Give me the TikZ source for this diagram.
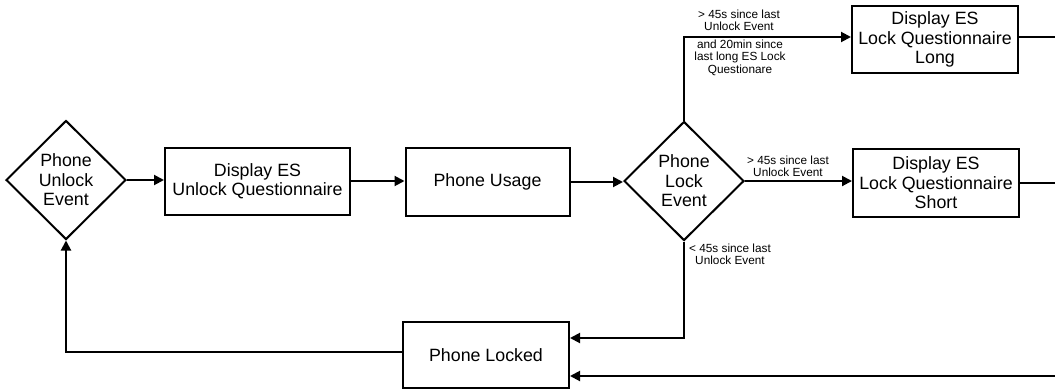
\documentclass[tikz,border=0pt]{standalone}
\usepackage{fontspec}
\setmainfont{Liberation Sans}
\usetikzlibrary{shapes.geometric,arrows.meta}
\begin{document}
\begin{tikzpicture}[x=1pt,y=-1pt,
 every node/.style={font=\fontsize{17.8}{19.5}\selectfont},
 box/.style={draw,line width=2pt,align=center,inner sep=0pt},
 dec/.style={draw,diamond,line width=2pt,align=center,inner sep=0pt,minimum width=120pt,minimum height=119pt},
 arr/.style={line width=2pt,-{Triangle[length=10pt,width=10pt]}},
 ln/.style={line width=2pt},
 lbl/.style={font=\fontsize{11.8}{12.4}\selectfont,align=center,inner sep=0pt,anchor=north}]
\useasboundingbox (0,0) rectangle (1055,389);
\node[dec] (unlock) at (66,180) {Phone\\Unlock\\Event};
\node[box,minimum width=185pt,minimum height=67pt] (dispU) at (257.5,181) {Display ES\\Unlock Questionnaire};
\node[box,minimum width=164pt,minimum height=68pt] (usage) at (487.5,182) {Phone Usage};
\node[dec] (lock) at (684,181) {Phone\\Lock\\Event};
\node[box,minimum width=166pt,minimum height=67pt] (long) at (935,39.5) {Display ES\\Lock Questionnaire\\Long};
\node[box,minimum width=166pt,minimum height=68pt] (short) at (936,183) {Display ES\\Lock Questionnaire\\Short};
\node[box,minimum width=166pt,minimum height=66pt] (locked) at (486,355) {Phone Locked};

\coordinate (r1) at (1055,37);
\coordinate (r2) at (1055,183);
\coordinate (r3) at (1055,376);

\draw[arr] (unlock.east) -- (unlock.east -| dispU.west);
\draw[arr] (dispU.east) -- (dispU.east -| usage.west);
\draw[arr] (usage.east) -- (usage.east -| lock.west);
\draw[arr] (lock.east) -- (lock.east -| short.west);
\draw[arr] (lock.north) |- ([yshift=2.5pt]long.west);
\draw[arr] (lock.south) |- ([yshift=17pt]locked.east);
\draw[arr] (r3) -- (r3 -| locked.east);
\draw[ln] (r1 -| long.east) -- (r1);
\draw[ln] (short.east) -- (r2);
\draw[arr] ([yshift=3pt]locked.west) -| (unlock.south);

\node[lbl] (l1) at (739,9.8) {> 45s since last\\Unlock Event};
\node[lbl] (l2) at (740,39.8) {and 20min since\\last long ES Lock\\Questionare};
\node[lbl] (l3) at (788,155.7) {> 45s since last\\Unlock Event};
\node[lbl] (l4) at (730,243.7) {< 45s since last\\Unlock Event};
\end{tikzpicture}
\end{document}
